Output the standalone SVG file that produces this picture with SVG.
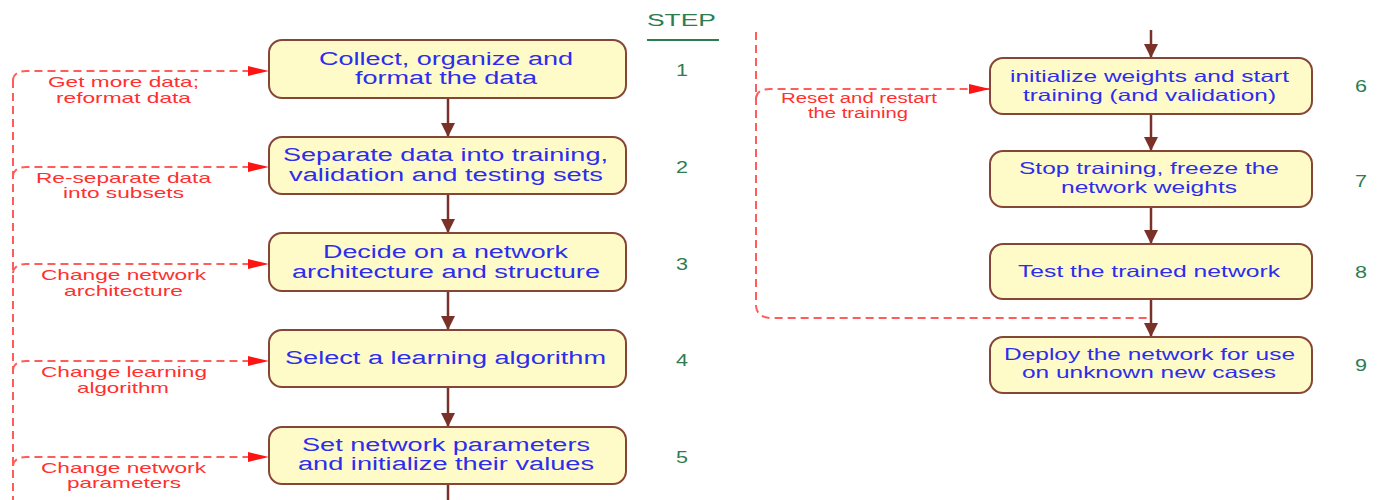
<svg xmlns="http://www.w3.org/2000/svg" width="1385" height="500" viewBox="0 0 1385 500">
<style>
.box{fill:#fffbc8;stroke:#864637;stroke-width:2}
.bt{font-family:"Liberation Sans",Arial,sans-serif;font-size:18px;fill:#2d2ded}
.rbt{font-family:"Liberation Sans",Arial,sans-serif;font-size:16.5px;fill:#2d2ded}
.lbl{font-family:"Liberation Sans",Arial,sans-serif;font-size:15px;fill:#ff3030}
.lbls{font-family:"Liberation Sans",Arial,sans-serif;font-size:14px;fill:#ff3030}
.num{font-family:"Liberation Sans",Arial,sans-serif;font-size:16px;fill:#2e7d50}
.flow{fill:none;stroke:#7a3228;stroke-width:2.5}
.fb{fill:none;stroke:#ff5c5c;stroke-width:2;stroke-dasharray:8 5}
</style>
<defs>
<marker id="ba" markerUnits="userSpaceOnUse" markerWidth="16" markerHeight="16" refX="14" refY="8" orient="auto"><path d="M0,1 L14,8 L0,15 Z" fill="#7a3228"/></marker>
<marker id="ra" markerUnits="userSpaceOnUse" markerWidth="22" markerHeight="12" refX="21" refY="6" orient="auto"><path d="M0,1 L21,6 L0,11 Z" fill="#ff1414"/></marker>
</defs>

<g id="step-header">
<text class="num" x="647" y="26" textLength="69" lengthAdjust="spacingAndGlyphs">STEP</text>
<line x1="647" y1="40" x2="719" y2="40" stroke="#2e7d50" stroke-width="2"/>
</g>

<g id="connectors">
<path class="flow" d="M448,98 V137" marker-end="url(#ba)"/>
<path class="flow" d="M448,194 V233" marker-end="url(#ba)"/>
<path class="flow" d="M448,291 V330" marker-end="url(#ba)"/>
<path class="flow" d="M448,387 V427" marker-end="url(#ba)"/>
<path class="flow" d="M448,484 V500"/>
<path class="flow" d="M1151,30 V58" marker-end="url(#ba)"/>
<path class="flow" d="M1151,114 V151" marker-end="url(#ba)"/>
<path class="flow" d="M1151,207 V244" marker-end="url(#ba)"/>
<path class="flow" d="M1151,299 V337" marker-end="url(#ba)"/>
<path class="fb" d="M13,80 V500"/>
<path class="fb" d="M13,80 Q14,71 26,71 H269" marker-end="url(#ra)"/>
<path class="fb" d="M13,176 Q14,167 26,167 H269" marker-end="url(#ra)"/>
<path class="fb" d="M13,273 Q14,264 26,264 H269" marker-end="url(#ra)"/>
<path class="fb" d="M13,370 Q14,361 26,361 H269" marker-end="url(#ra)"/>
<path class="fb" d="M13,466 Q14,457 26,457 H269" marker-end="url(#ra)"/>
<path class="fb" d="M756,32 V306 Q757,318 772,318 H1151"/>
<path class="fb" d="M756,98 Q757,89 770,89 H990" marker-end="url(#ra)"/>
<text class="lbl" x="48" y="87" textLength="151" lengthAdjust="spacingAndGlyphs">Get more data;</text>
<text class="lbl" x="56" y="103" textLength="135" lengthAdjust="spacingAndGlyphs">reformat data</text>
<text class="lbl" x="36" y="183" textLength="175" lengthAdjust="spacingAndGlyphs">Re-separate data</text>
<text class="lbl" x="63" y="198" textLength="121" lengthAdjust="spacingAndGlyphs">into subsets</text>
<text class="lbl" x="41" y="280" textLength="165" lengthAdjust="spacingAndGlyphs">Change network</text>
<text class="lbl" x="64" y="296" textLength="119" lengthAdjust="spacingAndGlyphs">architecture</text>
<text class="lbl" x="41" y="377" textLength="166" lengthAdjust="spacingAndGlyphs">Change learning</text>
<text class="lbl" x="77" y="393" textLength="92" lengthAdjust="spacingAndGlyphs">algorithm</text>
<text class="lbl" x="41" y="473" textLength="165" lengthAdjust="spacingAndGlyphs">Change network</text>
<text class="lbl" x="67" y="488" textLength="114" lengthAdjust="spacingAndGlyphs">parameters</text>
<text class="lbls" x="781" y="103" textLength="156" lengthAdjust="spacingAndGlyphs">Reset and restart</text>
<text class="lbls" x="808" y="118" textLength="100" lengthAdjust="spacingAndGlyphs">the training</text>
</g>

<g id="node1">
<rect class="box" x="269" y="40" width="357" height="58" rx="13"/>
<text class="bt" x="319" y="65" textLength="254" lengthAdjust="spacingAndGlyphs">Collect, organize and</text>
<text class="bt" x="355" y="84" textLength="182" lengthAdjust="spacingAndGlyphs">format the data</text>
<text class="num" x="676" y="76" textLength="12" lengthAdjust="spacingAndGlyphs">1</text>
</g>
<g id="node2">
<rect class="box" x="269" y="137" width="357" height="57" rx="13"/>
<text class="bt" x="283" y="161" textLength="325" lengthAdjust="spacingAndGlyphs">Separate data into training,</text>
<text class="bt" x="289" y="181" textLength="314" lengthAdjust="spacingAndGlyphs">validation and testing sets</text>
<text class="num" x="676" y="173" textLength="12" lengthAdjust="spacingAndGlyphs">2</text>
</g>
<g id="node3">
<rect class="box" x="269" y="233" width="357" height="58" rx="13"/>
<text class="bt" x="323" y="258" textLength="245" lengthAdjust="spacingAndGlyphs">Decide on a network</text>
<text class="bt" x="292" y="278" textLength="308" lengthAdjust="spacingAndGlyphs">architecture and structure</text>
<text class="num" x="676" y="270" textLength="12" lengthAdjust="spacingAndGlyphs">3</text>
</g>
<g id="node4">
<rect class="box" x="269" y="330" width="357" height="57" rx="13"/>
<text class="bt" x="285" y="364" textLength="321" lengthAdjust="spacingAndGlyphs">Select a learning algorithm</text>
<text class="num" x="676" y="366" textLength="12" lengthAdjust="spacingAndGlyphs">4</text>
</g>
<g id="node5">
<rect class="box" x="269" y="427" width="357" height="57" rx="13"/>
<text class="bt" x="302" y="451" textLength="288" lengthAdjust="spacingAndGlyphs">Set network parameters</text>
<text class="bt" x="298" y="470" textLength="296" lengthAdjust="spacingAndGlyphs">and initialize their values</text>
<text class="num" x="676" y="463" textLength="12" lengthAdjust="spacingAndGlyphs">5</text>
</g>
<g id="node6">
<rect class="box" x="990" y="58" width="322" height="56" rx="13"/>
<text class="rbt" x="1010" y="82" textLength="279" lengthAdjust="spacingAndGlyphs">initialize weights and start</text>
<text class="rbt" x="1023" y="101" textLength="253" lengthAdjust="spacingAndGlyphs">training (and validation)</text>
<text class="num" x="1355" y="92" textLength="12" lengthAdjust="spacingAndGlyphs">6</text>
</g>
<g id="node7">
<rect class="box" x="990" y="151" width="322" height="56" rx="13"/>
<text class="rbt" x="1019" y="174" textLength="260" lengthAdjust="spacingAndGlyphs">Stop training, freeze the</text>
<text class="rbt" x="1061" y="193" textLength="176" lengthAdjust="spacingAndGlyphs">network weights</text>
<text class="num" x="1355" y="187" textLength="12" lengthAdjust="spacingAndGlyphs">7</text>
</g>
<g id="node8">
<rect class="box" x="990" y="244" width="322" height="55" rx="13"/>
<text class="rbt" x="1018" y="277" textLength="262" lengthAdjust="spacingAndGlyphs">Test the trained network</text>
<text class="num" x="1355" y="278" textLength="12" lengthAdjust="spacingAndGlyphs">8</text>
</g>
<g id="node9">
<rect class="box" x="990" y="337" width="322" height="56" rx="13"/>
<text class="rbt" x="1004" y="360" textLength="291" lengthAdjust="spacingAndGlyphs">Deploy the network for use</text>
<text class="rbt" x="1022" y="378" textLength="254" lengthAdjust="spacingAndGlyphs">on unknown new cases</text>
<text class="num" x="1355" y="371" textLength="12" lengthAdjust="spacingAndGlyphs">9</text>
</g>
</svg>
